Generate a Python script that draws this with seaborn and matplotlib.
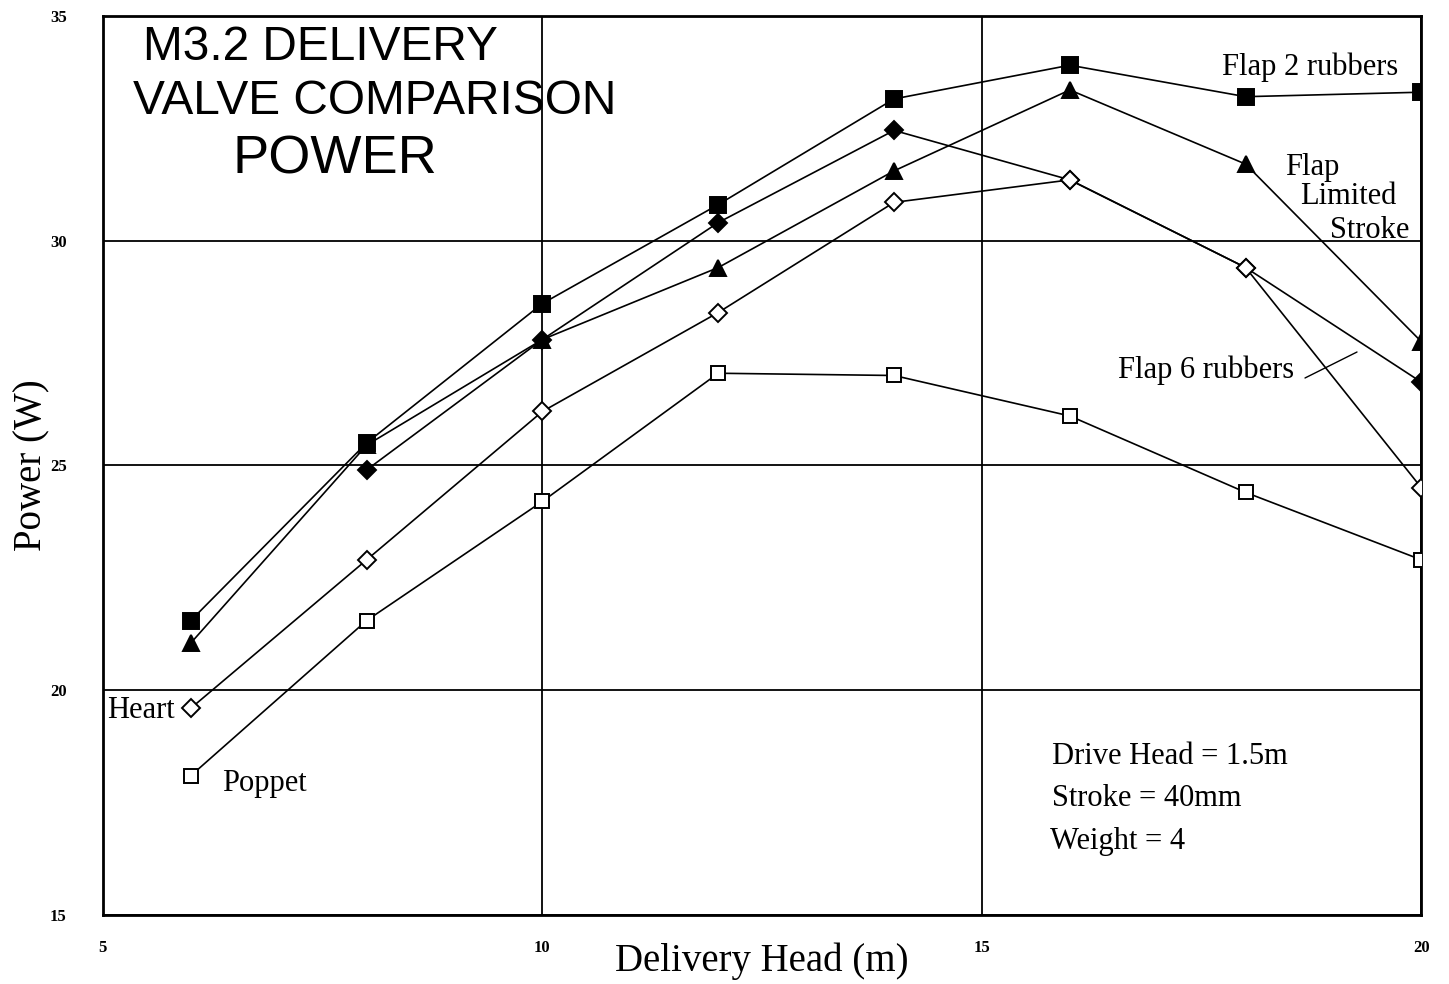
import matplotlib
matplotlib.use("Agg")
import matplotlib.pyplot as plt
import seaborn as sns
import pandas as pd
from matplotlib.ticker import MultipleLocator

# ---- data ----
head = [6, 8, 10, 12, 14, 16, 18, 20]
flap2 = [21.55, 25.5, 28.6, 30.8, 33.15, 33.9, 33.2, 33.3]
flap_limited = [21.05, 25.45, 27.8, 29.4, 31.55, 33.35, 31.7, 27.75]
head6 = [8, 10, 12, 14, 16, 18, 20]
flap6 = [24.9, 27.8, 30.4, 32.45, 31.35, 29.4, 26.85]
heart = [19.6, 22.9, 26.2, 28.4, 30.85, 31.35, 29.4, 24.5]
poppet = [18.1, 21.55, 24.2, 27.05, 27.0, 26.1, 24.4, 22.9]

series = [
    ("Flap 2 rubbers", head, flap2, "s", "black", 11),
    ("Flap Limited Stroke", head, flap_limited, "^", "black", 12),
    ("Flap 6 rubbers", head6, flap6, "D", "black", 9),
    ("Heart", head, heart, "D", "white", 9),
    ("Poppet", head, poppet, "s", "white", 10),
]

sns.set_style("white")
plt.rcParams['font.family'] = ['Liberation Serif', 'DejaVu Serif']
plt.rcParams['text.color'] = 'black'
plt.rcParams['axes.labelcolor'] = 'black'
plt.rcParams['xtick.color'] = 'black'
plt.rcParams['ytick.color'] = 'black'

fig = plt.figure(figsize=(14.49, 9.84), dpi=100)
ax = fig.add_axes([0.071, 0.070, 0.910, 0.914])

for name, xs, ys, mk, fc, ms in series:
    df = pd.DataFrame({"x": xs, "y": ys})
    sns.lineplot(data=df, x="x", y="y", ax=ax, color="black", linewidth=1.2,
                 marker=mk, markersize=ms, markerfacecolor=fc,
                 markeredgecolor="black", markeredgewidth=1.4, zorder=3)

ax.set_xlim(5, 20)
ax.set_ylim(15, 35)
ax.xaxis.set_major_locator(MultipleLocator(5))
ax.yaxis.set_major_locator(MultipleLocator(5))
ax.yaxis.set_minor_locator(MultipleLocator(1))
ax.xaxis.set_minor_locator(MultipleLocator(1))
ax.grid(True, which="major", color="black", linewidth=1.3)
ax.set_axisbelow(True)
for s in ax.spines.values():
    s.set_color("black")
    s.set_linewidth(2.0)
    s.set_visible(True)
ax.tick_params(axis="both", which="major", direction="in", length=0,
               labelsize=12, pad=18)
ax.tick_params(axis="y", which="major", pad=26)
ax.tick_params(axis="both", which="minor", direction="in", length=3, width=1)
for lab in ax.get_xticklabels() + ax.get_yticklabels():
    lab.set_fontweight("bold")

ax.set_xlabel("Delivery Head (m)", fontsize=28, labelpad=-10)
ax.set_ylabel("Power (W)", fontsize=28, labelpad=0)

sans = ['Liberation Sans', 'DejaVu Sans']
def figtxt(px, py, s, **kw):
    fig.text(px / 1449, 1 - py / 984, s, **kw)

# title block
figtxt(320, 48, "M3.2 DELIVERY", family=sans, fontsize=34.5, ha="center", va="center")
figtxt(375, 102, "VALVE COMPARISON", family=sans, fontsize=34.5, ha="center", va="center")
figtxt(335, 160, "POWER", family=sans, fontsize=39, ha="center", va="center")

# series labels
lab_kw = dict(fontsize=22, va="center")
figtxt(1222, 67, "Flap 2 rubbers", ha="left", **lab_kw)
figtxt(1285, 168, "Flap", ha="left", **lab_kw)
figtxt(1300, 196, "Limited", ha="left", **lab_kw)
figtxt(1330, 230, "Stroke", ha="left", **lab_kw)
figtxt(1118, 370, "Flap 6 rubbers", ha="left", **lab_kw)
figtxt(107, 711, "Heart", ha="left", **lab_kw)
figtxt(222, 784, "Poppet", ha="left", **lab_kw)
figtxt(1052, 757, "Drive Head = 1.5m", ha="left", **lab_kw)
figtxt(1052, 799, "Stroke = 40mm", ha="left", **lab_kw)
figtxt(1050, 841, "Weight = 4", ha="left", **lab_kw)

# pointer line for Flap 6 rubbers
fig.add_artist(plt.Line2D([1305 / 1449, 1357 / 1449],
                          [1 - 378 / 984, 1 - 352 / 984],
                          color="black", linewidth=1.0))

fig.savefig("out.png", dpi=100)
